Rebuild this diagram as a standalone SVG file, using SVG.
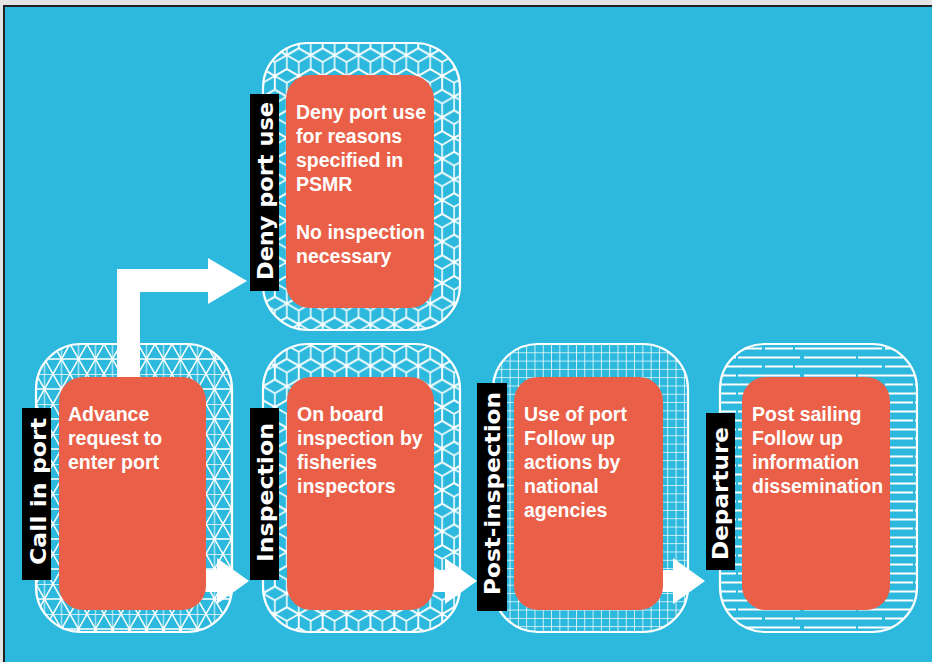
<svg xmlns="http://www.w3.org/2000/svg" xmlns:xlink="http://www.w3.org/1999/xlink" width="932" height="662" viewBox="0 0 932 662">
<style>
.outer{stroke:#fff;stroke-width:2.2}
.box{fill:#EA5F48}
.lbl{fill:#000}
.body{font-family:"Liberation Sans",Arial,sans-serif;font-weight:bold;font-size:19.5px;fill:#fff}
.tag{font-family:"DejaVu Sans","Liberation Sans",sans-serif;font-weight:bold;font-size:22px;fill:#fff;text-anchor:middle}
.pl{fill:none;stroke:#fff;stroke-width:1.5}
.arrow{fill:#fff}
</style>
<defs>
<path id="cube" d="M0,-13.8 L11.95,-6.9 L11.95,6.9 L0,13.8 L-11.95,6.9 L-11.95,-6.9 Z M0,0 V13.8 M0,0 L-11.95,-6.9 M0,0 L11.95,-6.9"/>
<pattern id="pCube" patternUnits="userSpaceOnUse" width="23.9" height="41.4" x="0" y="0">
<g class="pl">
<use xlink:href="#cube" x="0" y="0"/>
<use xlink:href="#cube" x="23.9" y="0"/>
<use xlink:href="#cube" x="0" y="41.4"/>
<use xlink:href="#cube" x="23.9" y="41.4"/>
<use xlink:href="#cube" x="11.95" y="20.7"/>
</g>
</pattern>
<pattern id="pTri" patternUnits="userSpaceOnUse" width="17" height="30" x="36" y="344">
<path class="pl" d="M0,0 H17 M0,15 H17 M0,0 L17,30 M17,0 L0,30"/>
<path d="M8.5,0 V30" stroke="#fff" stroke-opacity="0.55" stroke-width="1.6"/>
</pattern>
<pattern id="pGrid" patternUnits="userSpaceOnUse" width="8.3" height="8.3" x="493" y="344">
<path class="pl" d="M0,0 H8.3 M0,0 V8.3" stroke-width="1.5"/>
</pattern>
<pattern id="pLines" patternUnits="userSpaceOnUse" width="120" height="18" x="720" y="344">
<path d="M0,4.5 H120" fill="none" stroke="#fff" stroke-width="1.9" stroke-dasharray="42 3 28 2 45"/>
<path d="M0,13.5 H120" fill="none" stroke="#fff" stroke-width="1.9" stroke-dasharray="16 2 62 4 36"/>
</pattern>
</defs>
<rect x="0" y="0" width="932" height="662" fill="#e4e4e4"/>
<rect x="4" y="6" width="940" height="700" fill="#2CB9DD" stroke="#222" stroke-width="2"/>

<g id="connectors">
<polygon class="arrow" points="117,385 117,269 208,269 208,258 247,281 208,304 208,292 140,292 140,385"/>
<polygon class="arrow" points="198,570 217,570 217,558 249,581 217,604 217,592 198,592"/>
<polygon class="arrow" points="426,570 445,570 445,558 477,581 445,604 445,592 426,592"/>
<polygon class="arrow" points="655,570 673,570 673,558 705,581 673,604 673,592 655,592"/>
</g>

<g id="node-deny">
<rect class="outer" x="263" y="43" width="197" height="287" rx="45" fill="url(#pCube)"/>
<rect class="box" x="286" y="75" width="148" height="233" rx="24"/>
<text class="body"><tspan x="296" y="119">Deny port use</tspan><tspan x="296" y="143">for reasons</tspan><tspan x="296" y="167">specified in</tspan><tspan x="296" y="191">PSMR</tspan><tspan x="296" y="239">No inspection</tspan><tspan x="296" y="263">necessary</tspan></text>
<rect class="lbl" x="250" y="94" width="29" height="197"/>
<text class="tag" transform="translate(272.5,191) rotate(-90)" textLength="178" lengthAdjust="spacingAndGlyphs">Deny port use</text>
</g>

<g id="node-call">
<rect class="outer" x="36" y="344" width="196" height="288" rx="45" fill="url(#pTri)"/>
<rect class="box" x="59" y="377" width="147" height="233" rx="24"/>
<text class="body"><tspan x="68" y="421">Advance</tspan><tspan x="68" y="445">request to</tspan><tspan x="68" y="469">enter port</tspan></text>
<rect class="lbl" x="22" y="408" width="29" height="172"/>
<text class="tag" transform="translate(45.5,491.5) rotate(-90)" textLength="147" lengthAdjust="spacingAndGlyphs">Call in port</text>
</g>

<g id="node-inspection">
<rect class="outer" x="263" y="344" width="197" height="288" rx="45" fill="url(#pCube)"/>
<rect class="box" x="287" y="377" width="147" height="233" rx="24"/>
<text class="body"><tspan x="297" y="421">On board</tspan><tspan x="297" y="445">inspection by</tspan><tspan x="297" y="469">fisheries</tspan><tspan x="297" y="493">inspectors</tspan></text>
<rect class="lbl" x="250" y="408" width="29" height="172"/>
<text class="tag" transform="translate(272.5,492.5) rotate(-90)" textLength="139" lengthAdjust="spacingAndGlyphs">Inspection</text>
</g>

<g id="node-post">
<rect class="outer" x="493" y="344" width="195" height="288" rx="45" fill="url(#pGrid)"/>
<rect class="box" x="514" y="377" width="149" height="233" rx="24"/>
<text class="body"><tspan x="524" y="421">Use of port</tspan><tspan x="524" y="445">Follow up</tspan><tspan x="524" y="469">actions by</tspan><tspan x="524" y="493">national</tspan><tspan x="524" y="517">agencies</tspan></text>
<rect class="lbl" x="477" y="383" width="30" height="228"/>
<text class="tag" transform="translate(500,493.5) rotate(-90)" textLength="203" lengthAdjust="spacingAndGlyphs">Post-inspection</text>
</g>

<g id="node-departure">
<rect class="outer" x="720" y="344" width="197" height="288" rx="45" fill="url(#pLines)"/>
<rect class="box" x="742" y="377" width="148" height="233" rx="24"/>
<text class="body"><tspan x="752" y="421">Post sailing</tspan><tspan x="752" y="445">Follow up</tspan><tspan x="752" y="469">information</tspan><tspan x="752" y="493">dissemination</tspan></text>
<rect class="lbl" x="706" y="413" width="29" height="157"/>
<text class="tag" transform="translate(727.5,493.5) rotate(-90)" textLength="133" lengthAdjust="spacingAndGlyphs">Departure</text>
</g>
</svg>
